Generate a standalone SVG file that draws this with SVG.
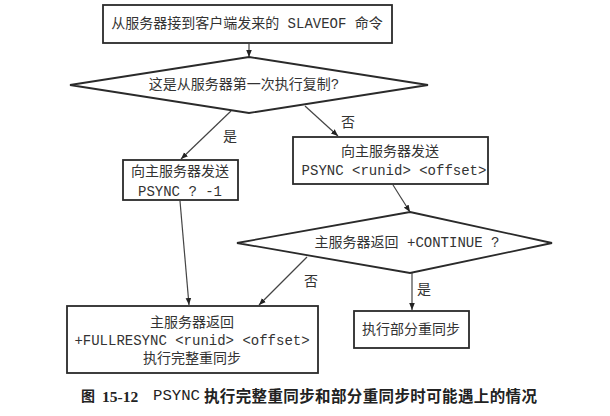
<svg xmlns="http://www.w3.org/2000/svg" width="610" height="416" viewBox="0 0 610 416">
<style>
.box{fill:#fff;stroke:#2a2a2a;stroke-width:1.8}
.t{font-family:"Liberation Mono","Noto Sans CJK SC",monospace;font-size:14px;fill:#333;text-anchor:middle;dominant-baseline:central}
.lbl{font-family:"Noto Sans CJK SC",sans-serif;font-size:14px;fill:#333;text-anchor:middle;dominant-baseline:central}
.c{stroke:#444;stroke-width:1.2;fill:none;marker-end:url(#ah)}
.cap{font-family:"Liberation Serif","Noto Sans CJK SC",serif;font-size:15.5px;fill:#222;font-weight:bold;dominant-baseline:central}
</style>
<defs>
<marker id="ah" viewBox="0 0 10 10" refX="10" refY="5" markerWidth="7" markerHeight="7" markerUnits="userSpaceOnUse" orient="auto">
<path d="M0,1 L10,5 L0,9 z" fill="#222"/>
</marker>
</defs>
<rect width="610" height="416" fill="#fff"/>
<g id="connectors">
<line class="c" x1="249" y1="44" x2="249" y2="57"/>
<line class="c" x1="231" y1="111" x2="181" y2="159"/>
<line class="c" x1="305" y1="106" x2="338" y2="136"/>
<line class="c" x1="180" y1="201" x2="189" y2="305"/>
<line class="c" x1="393" y1="185" x2="410" y2="212"/>
<line class="c" x1="307" y1="257" x2="259" y2="305"/>
<line class="c" x1="412" y1="272" x2="412" y2="310"/>
<text class="lbl" x="230" y="135">是</text>
<text class="lbl" x="348" y="121">否</text>
<text class="lbl" x="311" y="280">否</text>
<text class="lbl" x="424" y="288">是</text>
</g>
<g id="start">
<rect class="box" x="103" y="5" width="289" height="38"/>
<text class="t" x="247" y="24">从服务器接到客户端发来的 SLAVEOF 命令</text>
</g>
<g id="first">
<polygon class="box" points="249,57 428,85 249,113 70,85"/>
<text class="t" x="244" y="85">这是从服务器第一次执行复制?</text>
</g>
<g id="psync-full">
<rect class="box" x="123" y="160" width="115" height="40"/>
<text class="t" x="180" y="172">向主服务器发送</text>
<text class="t" x="180" y="192">PSYNC ? -1</text>
</g>
<g id="psync-partial">
<rect class="box" x="293" y="137" width="195" height="47"/>
<text class="t" x="390" y="152">向主服务器发送</text>
<text class="t" x="394" y="171">PSYNC &lt;runid&gt; &lt;offset&gt;</text>
</g>
<g id="continue">
<polygon class="box" points="410,212 552,243 410,273 237,243"/>
<text class="t" x="407" y="243">主服务器返回 +CONTINUE ?</text>
</g>
<g id="fullresync">
<rect class="box" x="67" y="306" width="251" height="67"/>
<text class="t" x="192" y="323">主服务器返回</text>
<text class="t" x="192" y="341">+FULLRESYNC &lt;runid&gt; &lt;offset&gt;</text>
<text class="t" x="192" y="359">执行完整重同步</text>
</g>
<g id="partial">
<rect class="box" x="354" y="311" width="115" height="37"/>
<text class="t" x="411" y="330">执行部分重同步</text>
</g>
<text class="cap" x="81" y="396"><tspan font-size="14px">图</tspan><tspan x="102">15-12</tspan><tspan x="153" font-family="Liberation Mono" font-weight="normal" textLength="47" lengthAdjust="spacingAndGlyphs">PSYNC</tspan><tspan x="204" textLength="333" lengthAdjust="spacing">执行完整重同步和部分重同步时可能遇上的情况</tspan></text>
</svg>
